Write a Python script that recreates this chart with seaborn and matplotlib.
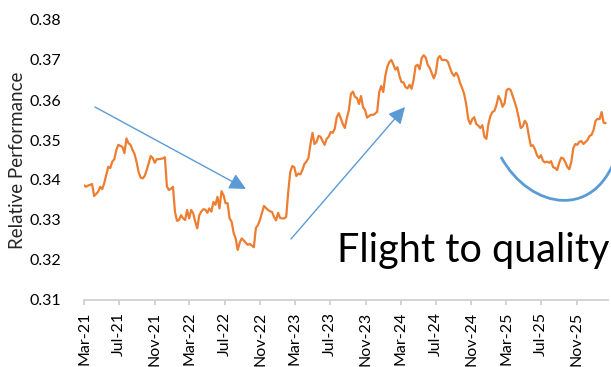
import numpy as np
import pandas as pd
import matplotlib
matplotlib.use("Agg")
import matplotlib.pyplot as plt
import matplotlib.dates as mdates
from matplotlib.path import Path
from matplotlib.patches import PathPatch
import seaborn as sns

# ---- data (weekly) ----
start_date = "2021-03-01"
values = [
    0.3387, 0.3383, 0.3386, 0.3388, 0.3390, 0.3360, 0.3365, 0.3371, 0.3383, 0.3377,
    0.3392, 0.3412, 0.3433, 0.3430, 0.3446, 0.3452, 0.3475, 0.3488, 0.3485, 0.3483,
    0.3467, 0.3504, 0.3492, 0.3488, 0.3475, 0.3465, 0.3445, 0.3420, 0.3406, 0.3404,
    0.3410, 0.3425, 0.3442, 0.3460, 0.3455, 0.3443, 0.3452, 0.3452, 0.3453, 0.3454,
    0.3457, 0.3384, 0.3375, 0.3378, 0.3383, 0.3320, 0.3298, 0.3300, 0.3312, 0.3304,
    0.3300, 0.3325, 0.3304, 0.3325, 0.3317, 0.3296, 0.3279, 0.3312, 0.3321, 0.3327,
    0.3326, 0.3318, 0.3329, 0.3321, 0.3345, 0.3338, 0.3358, 0.3329, 0.3372, 0.3362,
    0.3342, 0.3342, 0.3304, 0.3296, 0.3268, 0.3254, 0.3225, 0.3243, 0.3254, 0.3249,
    0.3243, 0.3238, 0.3240, 0.3236, 0.3232, 0.3280, 0.3287, 0.3300, 0.3318, 0.3335,
    0.3330, 0.3325, 0.3322, 0.3320, 0.3307, 0.3299, 0.3318, 0.3305, 0.3304, 0.3304,
    0.3308, 0.3370, 0.3420, 0.3435, 0.3432, 0.3410, 0.3416, 0.3414, 0.3425, 0.3440,
    0.3446, 0.3455, 0.3490, 0.3518, 0.3490, 0.3495, 0.3510, 0.3508, 0.3497, 0.3488,
    0.3503, 0.3508, 0.3520, 0.3518, 0.3528, 0.3557, 0.3567, 0.3554, 0.3540, 0.3530,
    0.3555, 0.3575, 0.3615, 0.3621, 0.3608, 0.3605, 0.3590, 0.3610, 0.3582, 0.3575,
    0.3556, 0.3560, 0.3563, 0.3563, 0.3566, 0.3571, 0.3620, 0.3635, 0.3620, 0.3660,
    0.3683, 0.3695, 0.3700, 0.3689, 0.3676, 0.3682, 0.3660, 0.3645, 0.3644, 0.3632,
    0.3629, 0.3638, 0.3628, 0.3650, 0.3685, 0.3688, 0.3677, 0.3705, 0.3712, 0.3706,
    0.3688, 0.3680, 0.3667, 0.3654, 0.3668, 0.3704, 0.3710, 0.3700, 0.3700, 0.3700,
    0.3695, 0.3680, 0.3667, 0.3660, 0.3668, 0.3660, 0.3642, 0.3630, 0.3615, 0.3590,
    0.3553, 0.3540, 0.3552, 0.3557, 0.3540, 0.3536, 0.3530, 0.3537, 0.3508, 0.3503,
    0.3540, 0.3560, 0.3570, 0.3573, 0.3588, 0.3610, 0.3600, 0.3583, 0.3592, 0.3625,
    0.3628, 0.3625, 0.3610, 0.3595, 0.3578, 0.3555, 0.3530, 0.3534, 0.3548, 0.3540,
    0.3510, 0.3485, 0.3487, 0.3477, 0.3462, 0.3455, 0.3462, 0.3448, 0.3444, 0.3446,
    0.3443, 0.3447, 0.3432, 0.3430, 0.3425, 0.3443, 0.3456, 0.3454, 0.3445, 0.3433,
    0.3427, 0.3445, 0.3480, 0.3490, 0.3488, 0.3496, 0.3497, 0.3490, 0.3495, 0.3500,
    0.3510, 0.3513, 0.3525, 0.3548, 0.3553, 0.3552, 0.3570, 0.3543, 0.3542,
]
y_ticks = [0.31, 0.32, 0.33, 0.34, 0.35, 0.36, 0.37, 0.38]
x_tick_dates = ["2021-03-01", "2021-07-01", "2021-11-01", "2022-03-01", "2022-07-01",
                "2022-11-01", "2023-03-01", "2023-07-01", "2023-11-01", "2024-03-01",
                "2024-07-01", "2024-11-01", "2025-03-01", "2025-07-01", "2025-11-01"]
x_end = "2026-02-17"
y_label = "Relative Performance"
note = "Flight to quality"

dates = pd.date_range(start_date, periods=len(values), freq="7D")
df = pd.DataFrame({"date": dates, "value": values})

# ---- style ----
sns.set_style("white")
plt.rcParams["font.family"] = ["Lato", "DejaVu Sans"]

W, H = 611, 367
fig = plt.figure(figsize=(W / 100, H / 100), dpi=100)
ax = fig.add_axes([84 / W, 1 - 300 / H, (608 - 84) / W, 280 / H])

sns.lineplot(data=df, x="date", y="value", ax=ax, color="#ED7D31", linewidth=1.6)

ax.set_ylim(0.31, 0.38)
ax.set_xlim(pd.Timestamp(start_date), pd.Timestamp(x_end))
ax.set_yticks(y_ticks)
ax.set_yticklabels([f"{v:.2f}" for v in y_ticks])
ax.set_xticks(pd.to_datetime(x_tick_dates))
ax.xaxis.set_major_formatter(mdates.DateFormatter("%b-%y"))
plt.setp(ax.get_xticklabels(), rotation=90)

for s in ["top", "right", "left"]:
    ax.spines[s].set_visible(False)
ax.spines["bottom"].set_color("#d0d0d0")
ax.spines["bottom"].set_linewidth(1.3)
ax.tick_params(axis="x", which="major", bottom=True, length=3.5, width=1.1,
               color="#c8c8c8", labelsize=11.5, pad=5, labelcolor="black")
ax.tick_params(axis="y", left=False, labelsize=11.5, pad=13, labelcolor="black")
ax.set_xlabel("")
ax.set_ylabel(y_label, fontsize=13.5)
ax.yaxis.set_label_coords((26 - 84) / 524, 0.5)
ax.grid(False)

def fp(px, py):
    return (px / W, 1 - py / H)

blue = "#5B9BD5"
arrow_style = "-|>,head_length=0.5,head_width=0.25"
ax.annotate("", xy=fp(246, 189), xytext=fp(95, 107), xycoords="figure fraction",
            textcoords="figure fraction",
            arrowprops=dict(arrowstyle=arrow_style, color=blue, lw=1.0,
                            mutation_scale=20, shrinkA=0, shrinkB=0))
ax.annotate("", xy=fp(405, 107), xytext=fp(291, 239), xycoords="figure fraction",
            textcoords="figure fraction",
            arrowprops=dict(arrowstyle=arrow_style, color=blue, lw=1.0,
                            mutation_scale=20, shrinkA=0, shrinkB=0))

verts = [fp(501, 157), fp(530, 210), fp(598, 222), fp(618, 150)]
path = Path(verts, [Path.MOVETO, Path.CURVE4, Path.CURVE4, Path.CURVE4])
fig.patches.append(PathPatch(path, facecolor="none", edgecolor=blue, lw=2.0,
                             transform=fig.transFigure))

fig.text(336.7 / W, 1 - 261.7 / H, note, fontsize=28.5, ha="left", va="baseline",
         color="black")

fig.savefig("out.png", dpi=100)
